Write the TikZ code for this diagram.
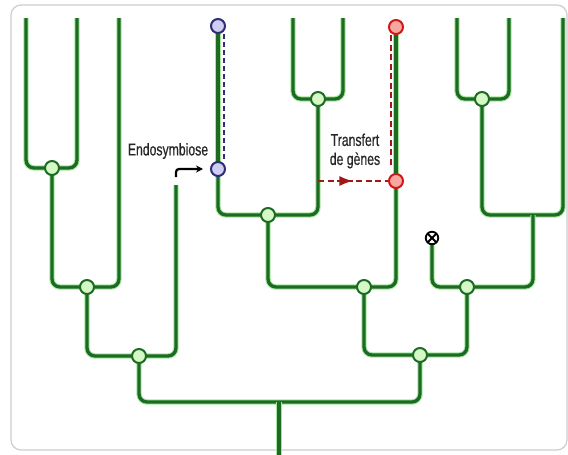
\documentclass[tikz,border=0pt]{standalone}
\usepackage{fontspec}
\newfontfamily\labelfont[FakeStretch=0.72,FakeBold=0.6]{Liberation Sans}
\usetikzlibrary{positioning,backgrounds,arrows.meta,decorations.markings}
\definecolor{treegreen}{HTML}{1B6B22}
\definecolor{glowgreen}{HTML}{A8E6A0}
\definecolor{nodegreen}{HTML}{D6F7C6}
\definecolor{bluefill}{HTML}{CFCDF2}
\definecolor{blueline}{HTML}{2E2C78}
\definecolor{redfill}{HTML}{F6A8A0}
\definecolor{redline}{HTML}{D01818}
\definecolor{transferred}{HTML}{A01818}
\definecolor{framegray}{HTML}{C9CED2}

\begin{document}
\begin{tikzpicture}
  [x=1pt,y=-1pt,
   branch/.style={draw=treegreen,line width=3.3pt,rounded corners=8pt,preaction={draw=glowgreen,line width=5.4pt}},
   junction/.style={circle,draw=treegreen,fill=nodegreen,line width=2pt,minimum size=14pt,inner sep=0pt},
   bluejunction/.style={junction,draw=blueline,fill=bluefill},
   redjunction/.style={junction,draw=redline,fill=redfill},
   lostbranch/.style={circle,draw=black,fill=white,line width=1.8pt,minimum size=12.5pt,inner sep=0pt,
     path picture={\draw [line width=1.8pt] (path picture bounding box.north west) -- (path picture bounding box.south east)
       (path picture bounding box.north east) -- (path picture bounding box.south west);}},
   bluedash/.style={draw=blueline,line width=2.1pt,dash pattern=on 5pt off 3pt},
   reddash/.style={draw=transferred,line width=2.1pt,dash pattern=on 6pt off 3.5pt},
   labeltext/.style={font=\labelfont\fontsize{17}{19}\selectfont,text=black!85,inner sep=0pt,align=center}]
  \useasboundingbox (0,0) rectangle (568,455);
  \node (A) at (52,168) [junction] {};
  \node (B) at (87,287) [junction] {};
  \node (C) at (139,356) [junction] {};
  \node (bluetop) at (218,26) [bluejunction] {};
  \node (bluelow) at (218,169) [bluejunction] {};
  \node (D) at (268,215) [junction] {};
  \node (E) at (318,99) [junction] {};
  \node (redtop) at (396,27) [redjunction] {};
  \node (redlow) at (396,181) [redjunction] {};
  \node (G) at (364,287) [junction] {};
  \node (I) at (482,99) [junction] {};
  \node (lost) at (432,238) [lostbranch] {};
  \node (F) at (467,287) [junction] {};
  \node (H) at (420,355) [junction] {};
  \coordinate (l1) at (26,18);
  \coordinate (l2) at (77,18);
  \coordinate (l3) at (119,18);
  \coordinate (l4) at (176,185);
  \coordinate (l6) at (293,18);
  \coordinate (l7) at (343,18);
  \coordinate (l8) at (457,18);
  \coordinate (l9) at (509,18);
  \coordinate (l10) at (563,18);
  \coordinate (rjoin) at (533,215);
  \coordinate (rootjoin) at (279,402);
  \coordinate (root) at (279,456);
  \coordinate (endostart) at (176,177);
  \coordinate (transferstart) at (E |- redlow);
  \begin{pgfonlayer}{background}
    \draw [draw=framegray,line width=1.2pt,rounded corners=10pt] (11,5) rectangle (567,450);
    \draw [branch] (l1) |- (A.center) -| (l2);
    \draw [branch] (A.center) |- (B.center) -| (l3);
    \draw [branch] (B.center) |- (C.center) -| (l4);
    \draw [branch] (bluetop.center) -- (bluelow.center);
    \draw [branch] (bluelow.center) |- (D.center) -| (E.center);
    \draw [branch] (l6) |- (E.center) -| (l7);
    \draw [branch] (redtop.center) -- (redlow.center);
    \draw [branch] (D.center) |- (G.center) -| (redlow.center);
    \draw [branch] (l8) |- (I.center) -| (l9);
    \draw [branch] (I.center) |- (rjoin) -| (l10);
    \draw [branch] (rjoin) |- (F.center);
    \draw [branch] (lost.center) |- (F.center);
    \draw [branch] (G.center) |- (H.center) -| (F.center);
    \draw [branch] (C.center) |- (rootjoin) -| (H.center);
    \draw [branch] (rootjoin) -- (root);
  \end{pgfonlayer}
  \draw [bluedash] ([xshift=6pt]bluetop.south) -- ([xshift=6pt]bluelow.north);
  \draw [reddash] ([xshift=-5pt]redtop.south) -- ([xshift=-5pt,yshift=5pt]redlow.north);
  \draw [reddash,postaction={decorate,decoration={markings,mark=at position 0.5 with {\arrow[transferred,scale=1.1]{Latex}}}}]
    (transferstart) -- (redlow.west);
  \draw [-{Stealth[length=7pt,width=7pt]},line width=2.2pt,rounded corners=3pt] (endostart) |- ([xshift=-7pt]bluelow.west);
  \node (endolabel) at (168,151) [labeltext] {Endosymbiose};
  \node (transferlabel) at (355,151) [labeltext] {Transfert\\de gènes};
\end{tikzpicture}
\end{document}
